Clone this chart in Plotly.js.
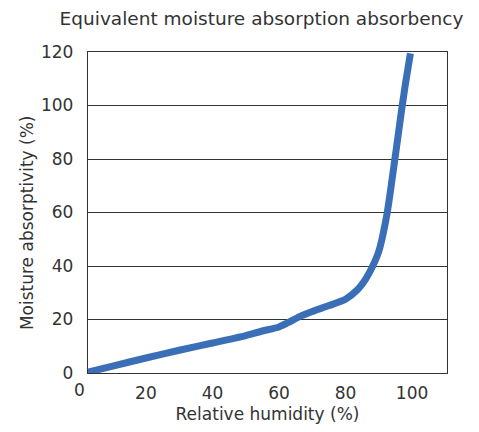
<!DOCTYPE html>
<html>
<head>
<meta charset="utf-8">
<script src="https://cdn.plot.ly/plotly-3.0.1.min.js"></script>
<style>html,body{margin:0;padding:0;background:#fff;}#chart{width:479px;height:432px;}</style>
</head>
<body>
<div id="chart"></div>
<script>
const humidity = [2.6, 10, 20, 30, 40, 50, 55, 60, 63, 66, 70, 75, 80, 83.5, 86, 88, 90, 92.5, 94.8, 97, 98, 99.5];
const absorptivity = [0.3, 2.6, 5.6, 8.5, 11.2, 14, 15.7, 17.2, 19, 21, 23, 25.2, 27.6, 31, 35, 39.5, 45.5, 59.7, 79.6, 99.6, 108, 119.5];
const xTicks = [20, 40, 60, 80, 100];
const yTicks = [0, 20, 40, 60, 80, 100, 120];
const titleText = 'Equivalent moisture absorption absorbency';
const xTitle = 'Relative humidity (%)';
const yTitle = 'Moisture absorptivity (%)';

const font = 'DejaVu Sans, sans-serif';
const ink = '#333';
const xRange = [2.6, 110.5];

const trace = {
  x: humidity, y: absorptivity, type: 'scatter', mode: 'lines',
  line: {color: '#3a6fb7', width: 7, shape: 'spline', smoothing: 0.6},
  hoverinfo: 'none'
};

const layout = {
  width: 479, height: 432,
  margin: {l: 88, r: 32, t: 52, b: 59},
  paper_bgcolor: '#fff', plot_bgcolor: '#fff',
  showlegend: false,
  font: {family: font, color: ink, size: 16},
  title: {text: titleText, font: {family: font, size: 18.5, color: ink},
          x: 0.546, xref: 'container', xanchor: 'center', y: 0.958, yref: 'container', yanchor: 'middle'},
  xaxis: {
    range: xRange, tickvals: xTicks, ticktext: xTicks.map(String),
    showgrid: false, zeroline: false, showline: true, mirror: true, linecolor: ink, linewidth: 1.2,
    ticks: '', ticklabelstandoff: 4, tickfont: {family: font, size: 17, color: ink},
    title: {text: xTitle, font: {family: font, size: 17, color: ink}, standoff: 6}
  },
  yaxis: {
    range: [0, 120], tickvals: yTicks, ticktext: yTicks.map(String),
    showgrid: true, gridcolor: ink, gridwidth: 1, zeroline: false,
    showline: true, mirror: true, linecolor: ink, linewidth: 1.2,
    ticks: '', ticklabelstandoff: 10, tickfont: {family: font, size: 17, color: ink}
  },
  annotations: [{
    text: '0', x: (0 - xRange[0]) / (xRange[1] - xRange[0]), xref: 'paper', y: 0, yref: 'paper',
    yanchor: 'top', xanchor: 'center',
    yshift: -5, showarrow: false, font: {family: font, size: 17, color: ink}
  }, {
    text: yTitle, textangle: -90, x: -0.17, xref: 'paper', y: 0.47, yref: 'paper',
    xanchor: 'center', yanchor: 'middle', showarrow: false,
    font: {family: font, size: 17, color: ink}
  }]
};

Plotly.newPlot('chart', [trace], layout, {displayModeBar: false, staticPlot: true});
</script>
</body>
</html>
